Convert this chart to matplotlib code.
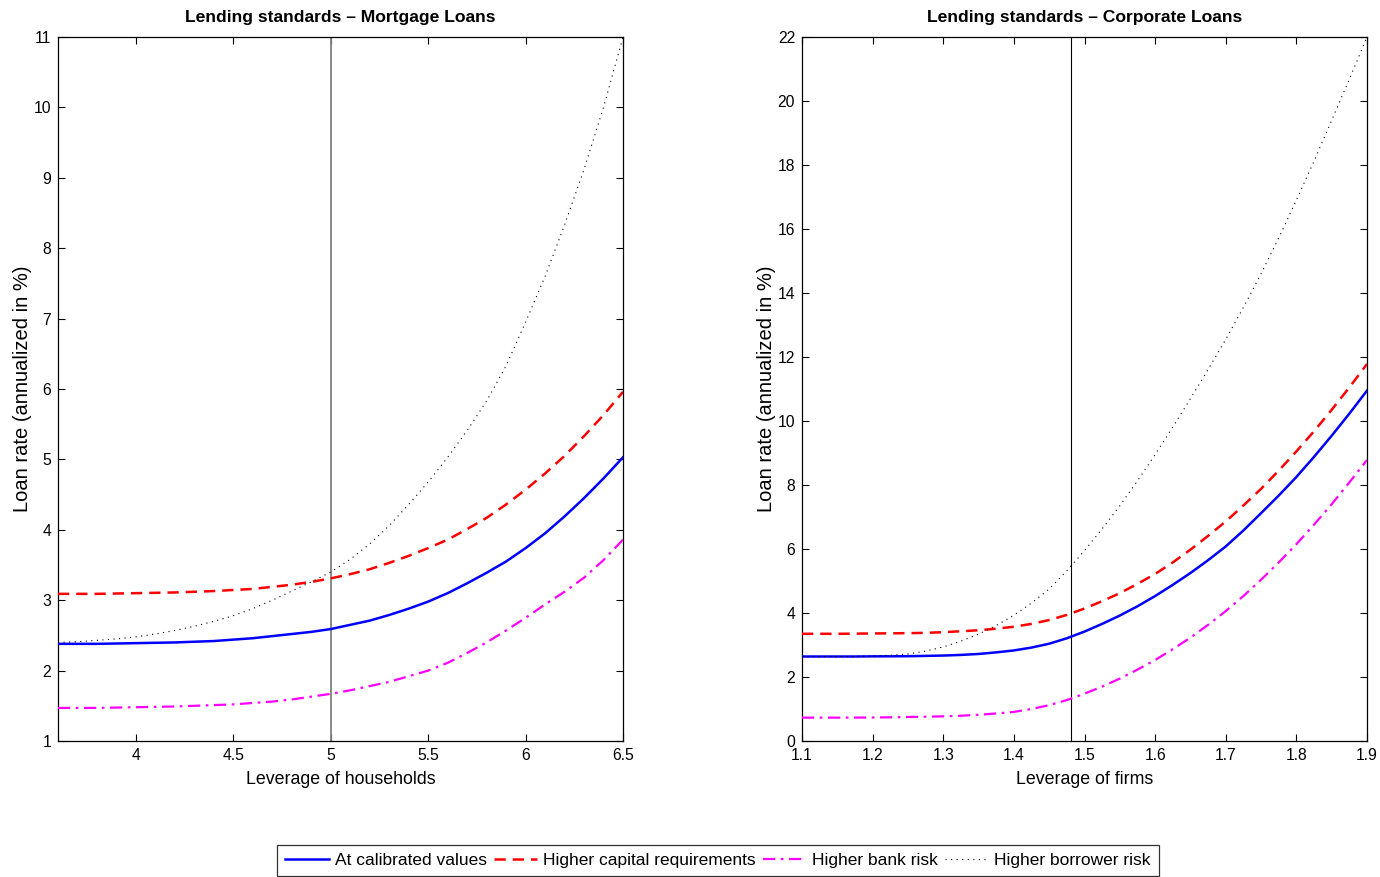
import matplotlib
matplotlib.use("Agg")
import matplotlib.pyplot as plt

plt.rcParams["font.family"] = ["Liberation Sans", "DejaVu Sans"]

# ---------------- Data: mortgage loans (households) ----------------
x_hh = [3.6, 3.7, 3.8, 3.9, 4.0, 4.1, 4.2, 4.3, 4.4, 4.5, 4.6, 4.7, 4.8, 4.9, 5.0,
        5.1, 5.2, 5.3, 5.4, 5.5, 5.6, 5.7, 5.8, 5.9, 6.0, 6.1, 6.2, 6.3, 6.4, 6.5]
hh_calibrated = [2.38, 2.38, 2.38, 2.385, 2.39, 2.395, 2.40, 2.41, 2.42, 2.44, 2.46, 2.49, 2.52, 2.55, 2.59,
                 2.65, 2.71, 2.79, 2.88, 2.98, 3.10, 3.24, 3.39, 3.55, 3.74, 3.95, 4.19, 4.45, 4.73, 5.03]
hh_capital = [3.09, 3.09, 3.09, 3.095, 3.10, 3.105, 3.11, 3.12, 3.13, 3.145, 3.16, 3.19, 3.22, 3.26, 3.31,
              3.37, 3.44, 3.53, 3.63, 3.74, 3.86, 4.01, 4.17, 4.36, 4.57, 4.80, 5.05, 5.33, 5.63, 5.96]
hh_bank_risk = [1.47, 1.47, 1.47, 1.475, 1.48, 1.485, 1.49, 1.50, 1.51, 1.52, 1.54, 1.56, 1.59, 1.63, 1.67,
                1.72, 1.78, 1.84, 1.92, 2.00, 2.11, 2.25, 2.40, 2.57, 2.75, 2.94, 3.12, 3.32, 3.57, 3.86]
hh_borrower_risk = [2.40, 2.41, 2.43, 2.45, 2.48, 2.52, 2.57, 2.63, 2.70, 2.78, 2.88, 3.00, 3.13, 3.26, 3.40,
                    3.58, 3.80, 4.06, 4.36, 4.68, 5.03, 5.41, 5.83, 6.33, 6.95, 7.60, 8.33, 9.12, 10.0, 11.0]
hh_steady = 5.0

# ---------------- Data: corporate loans (firms) ----------------
x_f = [1.100, 1.125, 1.150, 1.175, 1.200, 1.225, 1.250, 1.275, 1.300, 1.325, 1.350, 1.375, 1.400,
       1.425, 1.450, 1.475, 1.500, 1.525, 1.550, 1.575, 1.600, 1.625, 1.650, 1.675, 1.700,
       1.725, 1.750, 1.775, 1.800, 1.825, 1.850, 1.875, 1.900]
f_calibrated = [2.64, 2.64, 2.64, 2.64, 2.645, 2.647, 2.65, 2.66, 2.67, 2.69, 2.72, 2.77, 2.83,
                2.92, 3.04, 3.21, 3.42, 3.66, 3.92, 4.21, 4.53, 4.88, 5.25, 5.65, 6.08,
                6.58, 7.12, 7.67, 8.25, 8.88, 9.54, 10.23, 10.95]
f_capital = [3.35, 3.35, 3.35, 3.355, 3.36, 3.365, 3.37, 3.38, 3.40, 3.43, 3.46, 3.51, 3.57,
             3.66, 3.78, 3.94, 4.14, 4.37, 4.62, 4.91, 5.22, 5.58, 5.98, 6.41, 6.86,
             7.36, 7.88, 8.45, 9.05, 9.68, 10.35, 11.05, 11.78]
f_bank_risk = [0.73, 0.73, 0.73, 0.732, 0.735, 0.74, 0.75, 0.76, 0.77, 0.79, 0.82, 0.86, 0.91,
               1.00, 1.12, 1.28, 1.48, 1.70, 1.95, 2.23, 2.53, 2.87, 3.23, 3.63, 4.06,
               4.53, 5.04, 5.58, 6.15, 6.76, 7.40, 8.08, 8.78]
f_borrower_risk = [2.64, 2.64, 2.64, 2.645, 2.65, 2.68, 2.72, 2.81, 2.94, 3.12, 3.34, 3.61, 3.93,
                   4.31, 4.75, 5.32, 5.95, 6.63, 7.35, 8.13, 8.95, 9.81, 10.70, 11.61, 12.55,
                   13.55, 14.60, 15.72, 16.90, 18.12, 19.40, 20.68, 22.0]
f_steady = 1.481

labels = ["At calibrated values", "Higher capital requirements", "Higher bank risk", "Higher borrower risk"]

W, H = 1380, 877
fig = plt.figure(figsize=(W / 100, H / 100), dpi=100)

def ax_rect(x0, x1, y0, y1):
    return [x0 / W, 1 - y1 / H, (x1 - x0) / W, (y1 - y0) / H]

ax1 = fig.add_axes(ax_rect(58, 623, 37, 741))
ax2 = fig.add_axes(ax_rect(802, 1367, 37, 741))

styles = [
    dict(color="#0000ff", lw=1.8, linestyle="-"),
    dict(color="#ff0000", lw=1.8, linestyle=(0, (4.5, 2.8))),
    dict(color="#ff00ff", lw=1.6, linestyle=(0, (5.5, 2.5, 1.2, 2.5))),
    dict(color="#000000", lw=0.8, linestyle=(0, (1, 4))),
]

def panel(ax, x, series, vline, vcolor, vlw, xlim, ylim, xticks, yticks, title, xlabel):
    handles = []
    for s, st in zip(series, styles):
        h, = ax.plot(x, s, **st, zorder=3)
        handles.append(h)
    ax.axvline(vline, color=vcolor, lw=vlw, zorder=2)
    ax.set_xlim(*xlim)
    ax.set_ylim(*ylim)
    ax.set_xticks(xticks)
    ax.set_yticks(yticks)
    ax.set_xticklabels([f"{t:g}" for t in xticks])
    ax.set_yticklabels([f"{t:g}" for t in yticks])
    ax.tick_params(direction="in", top=True, right=True, length=5, width=0.8,
                   labelsize=11.3, pad=5)
    for sp in ax.spines.values():
        sp.set_linewidth(0.9)
    ax.set_title(title, fontsize=12.6, fontweight="bold", pad=11)
    ax.set_xlabel(xlabel, fontsize=12.8, labelpad=6)
    ax.set_ylabel("Loan rate (annualized in %)", fontsize=14.5, labelpad=1)
    return handles

handles = panel(ax1, x_hh, [hh_calibrated, hh_capital, hh_bank_risk, hh_borrower_risk],
                hh_steady, "#808080", 1.3, (3.6, 6.5), (1, 11),
                [4, 4.5, 5, 5.5, 6, 6.5], list(range(1, 12)),
                "Lending standards \u2013 Mortgage Loans", "Leverage of households")
panel(ax2, x_f, [f_calibrated, f_capital, f_bank_risk, f_borrower_risk],
      f_steady, "#000000", 0.8, (1.1, 1.9), (0, 22),
      [1.1, 1.2, 1.3, 1.4, 1.5, 1.6, 1.7, 1.8, 1.9], list(range(0, 23, 2)),
      "Lending standards \u2013 Corporate Loans", "Leverage of firms")

leg = fig.legend(handles, labels, loc="upper center", bbox_to_anchor=(718 / W, 1 - 845 / H),
                 ncol=4, fontsize=12.5, frameon=True, fancybox=False, edgecolor="black",
                 handlelength=2.5, handletextpad=0.35, columnspacing=0.4,
                 borderpad=0.45, borderaxespad=0.0)
leg.get_frame().set_linewidth(0.9)

fig.savefig("out.png", dpi=100)
